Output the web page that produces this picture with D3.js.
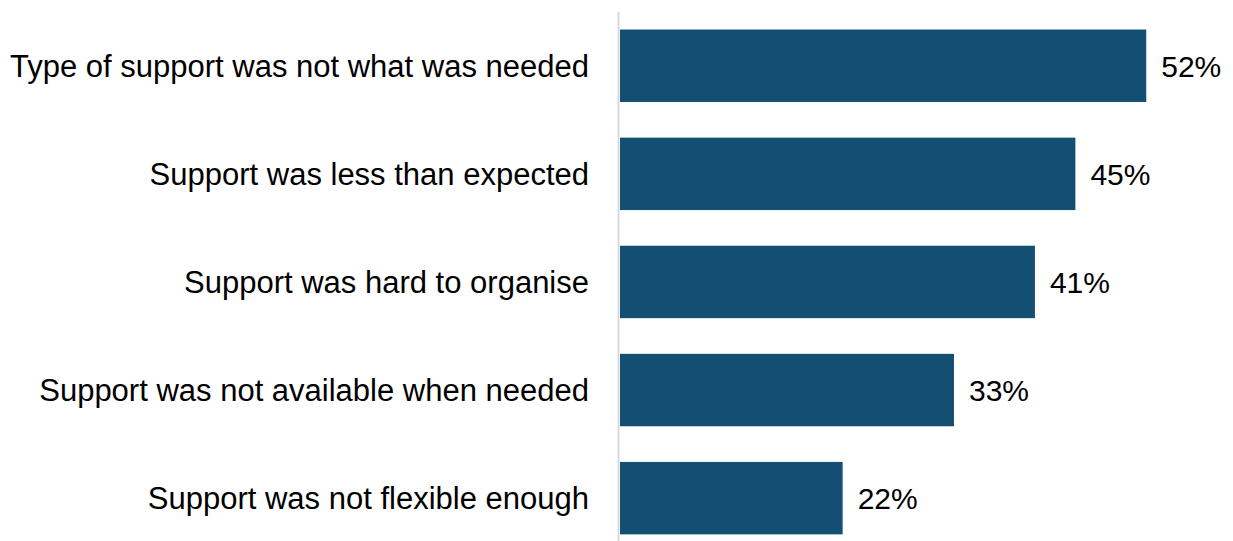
<!DOCTYPE html>
<html><head><meta charset="utf-8">
<script src="https://cdn.jsdelivr.net/npm/d3@7"></script>
<style>html,body{margin:0;padding:0;background:#fff;}svg{display:block;}</style>
</head><body>
<svg id="chart" width="1233" height="541"></svg>
<script>
const categories = [
  "Type of support was not what was needed",
  "Support was less than expected",
  "Support was hard to organise",
  "Support was not available when needed",
  "Support was not flexible enough"
];
const values = [52, 45, 41, 33, 22];

const svg = d3.select("#chart");
const font = "'Liberation Sans', Arial, sans-serif";
const x = d3.scaleLinear().domain([0, 100]).range([620, 1632]);
const y = d3.scaleBand().domain(categories).range([11.7, 552.2]).paddingInner(0.33).paddingOuter(0.165);

svg.append("line")
  .attr("x1", 618.5).attr("x2", 618.5)
  .attr("y1", 12).attr("y2", 552)
  .attr("stroke", "#d9d9d9").attr("stroke-width", 2);

svg.selectAll("rect.bar").data(values).join("rect")
  .attr("class", "bar")
  .attr("x", x(0))
  .attr("y", (d, i) => y(categories[i]))
  .attr("width", d => x(d) - x(0))
  .attr("height", y.bandwidth())
  .attr("fill", "#124f73");

svg.selectAll("text.val").data(values).join("text")
  .attr("class", "val")
  .attr("x", d => x(d) + 15)
  .attr("y", (d, i) => y(categories[i]) + y.bandwidth() / 2)
  .attr("dy", "0.36em")
  .attr("font-family", font).attr("font-size", 30)
  .attr("fill", "#000")
  .text(d => d + "%");

svg.selectAll("text.cat").data(categories).join("text")
  .attr("class", "cat")
  .attr("x", 589)
  .attr("y", d => y(d) + y.bandwidth() / 2)
  .attr("dy", "0.36em")
  .attr("text-anchor", "end")
  .attr("font-family", font).attr("font-size", 31)
  .attr("fill", "#000")
  .text(d => d);
</script>
</body></html>
